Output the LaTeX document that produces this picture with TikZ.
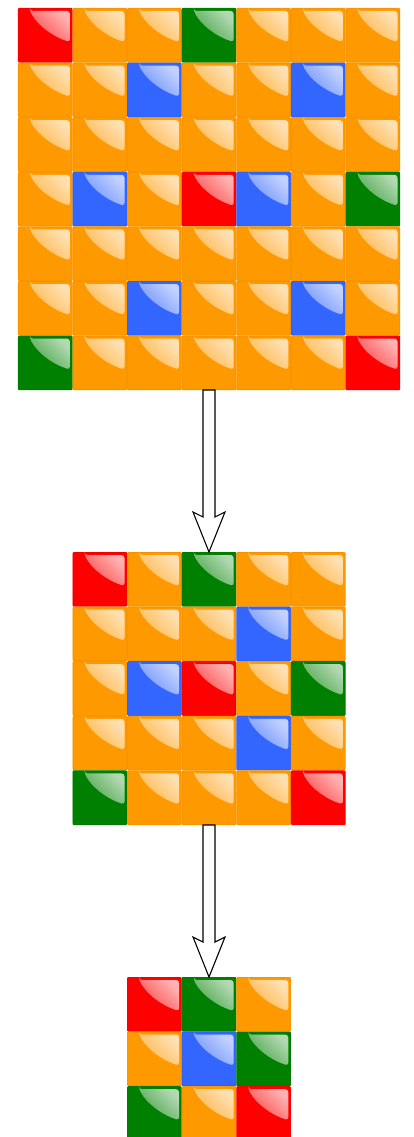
\documentclass[tikz,border=0pt]{standalone}
\usetikzlibrary{calc}
\definecolor{tileO}{HTML}{FF9900}
\definecolor{tileR}{HTML}{FF0000}
\definecolor{tileG}{HTML}{008000}
\definecolor{tileB}{HTML}{3366FF}

\tikzset{
  gloss/.style={shading=axis, top color=#1!30!white, bottom color=#1!72!white, shading angle=-45},
  shaftarrow/.style={draw=black, fill=white, line width=1.1pt, line join=miter}
}

% one glossy tile, top-left corner at (#1,#2)
\newcommand{\gtile}[3]{%
  \begin{scope}[shift={(#1,#2)}]
    \fill[#3, rounded corners=1] (0,0) rectangle (54.6,54.6);
    \draw[#3!93!black, line width=0.3pt, rounded corners=1.5] (0.6,0.6) rectangle (54,54);
    \shade[gloss=#3, rounded corners=3] (12,3) -- (52,3) -- (52,34)
      .. controls (36,29) and (20,18) .. (12,3) -- cycle;
  \end{scope}}

% a whole board of tiles
\newcommand{\drawgrid}[3]{%
  \foreach \cols [count=\row from 0] in {#3} {
    \foreach \c [count=\col from 0] in \cols {
      \gtile{{#1+\col*54.6}}{{#2+\row*54.6}}{tile\c}
    }
  }}

% block arrow from (#1) down to (#2)
\newcommand{\blockarrow}[2]{%
  \draw[shaftarrow] ($(#1)+(-6,0)$) -- ($(#2)+(-6,-35)$) -- ($(#2)+(-16,-40)$)
    -- (#2) -- ($(#2)+(16,-40)$) -- ($(#2)+(6,-35)$) -- ($(#1)+(6,0)$) -- cycle;}

\begin{document}
\begin{tikzpicture}[x=1pt, y=-1pt]
\useasboundingbox (0,0) rectangle (413,1137);
\clip (0,0) rectangle (413,1137);

% 7x7 board
\drawgrid{17.9}{8}{{R,O,O,G,O,O,O},{O,O,B,O,O,B,O},{O,O,O,O,O,O,O},%
  {O,B,O,R,B,O,G},{O,O,O,O,O,O,O},{O,O,B,O,O,B,O},{G,O,O,O,O,O,R}}

% 5x5 board
\drawgrid{72.5}{552}{{R,O,G,O,O},{O,O,O,B,O},{O,B,R,O,G},{O,O,O,B,O},{G,O,O,O,R}}

% 3x3 board
\drawgrid{127.1}{977}{{R,G,O},{O,B,G},{G,O,R}}

\coordinate (bigS) at (209,390);
\coordinate (midN) at (209,552);
\coordinate (midS) at (209,825);
\coordinate (smallN) at (209,977);

\blockarrow{bigS}{midN}
\blockarrow{midS}{smallN}

\end{tikzpicture}
\end{document}
